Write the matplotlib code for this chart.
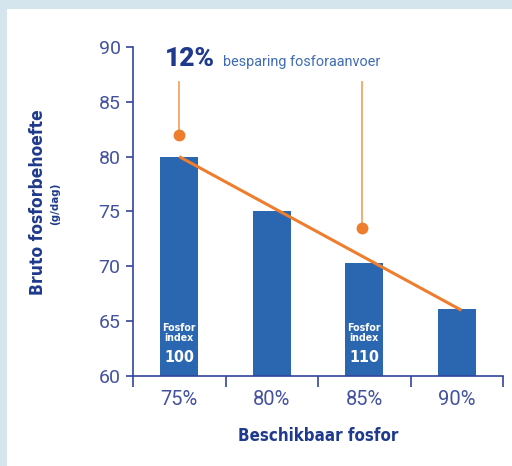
import matplotlib
matplotlib.use("Agg")
import matplotlib.pyplot as plt
from matplotlib.patches import Rectangle

# data
categories = ['75%', '80%', '85%', '90%']
values = [80, 75, 70.3, 66.1]
index_labels = {0: '100', 2: '110'}
marker_x = [0, 1.98]
marker_y = [82, 73.5]
marker_top = 86.8

BAR_BLUE = '#2b67b1'
DARK_BLUE = '#1f3a8c'
AXIS_BLUE = '#34449a'
TICK_BLUE = '#44529f'
ORANGE = '#ee7d2d'
LIGHT_ORANGE = '#f4a468'
COND = dict(family='DejaVu Sans', stretch='condensed', fontweight='bold')
LIGHT = 'Roboto'

fig = plt.figure(figsize=(5.12, 4.66), dpi=100)
fig.patch.set_facecolor('#d5e5ed')
fig.patches.append(Rectangle((7 / 512, 0), 1, 1 - 9 / 466, transform=fig.transFigure,
                             facecolor='white', edgecolor='none', zorder=-5))

ax = fig.add_axes([133 / 512, 1 - 376 / 466, 370 / 512, 329 / 466])
ax.set_zorder(2)
ax.patch.set_alpha(0)

x = list(range(len(categories)))
ax.bar(x, values, width=0.41, color=BAR_BLUE, zorder=2)

# trend line over the bar tops
ax.plot([x[0], x[-1] + 0.05], [values[0], values[-1] - 0.1], color=ORANGE, lw=2.2,
        solid_capstyle='butt', zorder=3)

# callout markers
for mx, my in zip(marker_x, marker_y):
    ax.plot([mx, mx], [my, marker_top], color=LIGHT_ORANGE, lw=1.3, zorder=3)
    ax.plot(mx, my, 'o', color=ORANGE, ms=7.5, zorder=4)

# text inside bars
for i, lab in index_labels.items():
    ax.text(i, 63.9, 'Fosfor\nindex', ha='center', va='center', color='white',
            fontsize=7.6, linespacing=1.05, **COND)
    ax.text(i, 61.7, lab, ha='center', va='center', color='white',
            fontsize=11.5, **COND)

ax.set_xlim(-0.5, 3.5)
ax.set_ylim(60, 90)
ax.set_yticks(range(60, 91, 5))
ax.set_xticks(x)
ax.set_xticklabels(categories)
ax.set_xticks([-0.5, 0.5, 1.5, 2.5, 3.5], minor=True)
ax.tick_params(axis='x', which='major', length=0, pad=10, labelsize=14.5, labelcolor=TICK_BLUE)
ax.tick_params(axis='x', which='minor', length=8, width=1.2, color=AXIS_BLUE)
ax.tick_params(axis='y', length=5, width=1.2, color=AXIS_BLUE, pad=4, labelsize=14,
               labelcolor=TICK_BLUE)
for lab in ax.get_xticklabels() + ax.get_yticklabels():
    lab.set_family(LIGHT)
    lab.set_fontweight('normal')

for s in ['top', 'right']:
    ax.spines[s].set_visible(False)
for s in ['left', 'bottom']:
    ax.spines[s].set_color(AXIS_BLUE)
    ax.spines[s].set_linewidth(1.2)

fig.text(318 / 512, 1 - 436 / 466, 'Beschikbaar fosfor', ha='center', va='center',
         fontsize=12.2, color=DARK_BLUE, **COND)
fig.text(38 / 512, 1 - 202 / 466, 'Bruto fosforbehoefte', ha='center', va='center',
         rotation=90, fontsize=12.5, color=DARK_BLUE, **COND)
fig.text(55 / 512, 1 - 204 / 466, '(g/dag)', ha='center', va='center',
         rotation=90, fontsize=8.2, color=DARK_BLUE, **COND)

fig.text(165 / 512, 1 - 66 / 466, '12%', ha='left', va='baseline',
         fontsize=19, fontweight='heavy', family='Roboto', color=DARK_BLUE)
fig.text(223 / 512, 1 - 66 / 466, 'besparing fosforaanvoer', ha='left', va='baseline',
         fontsize=10.4, fontweight='normal', family=LIGHT, color='#3f6cb4')

fig.savefig('out.png', dpi=100, facecolor=fig.get_facecolor())
